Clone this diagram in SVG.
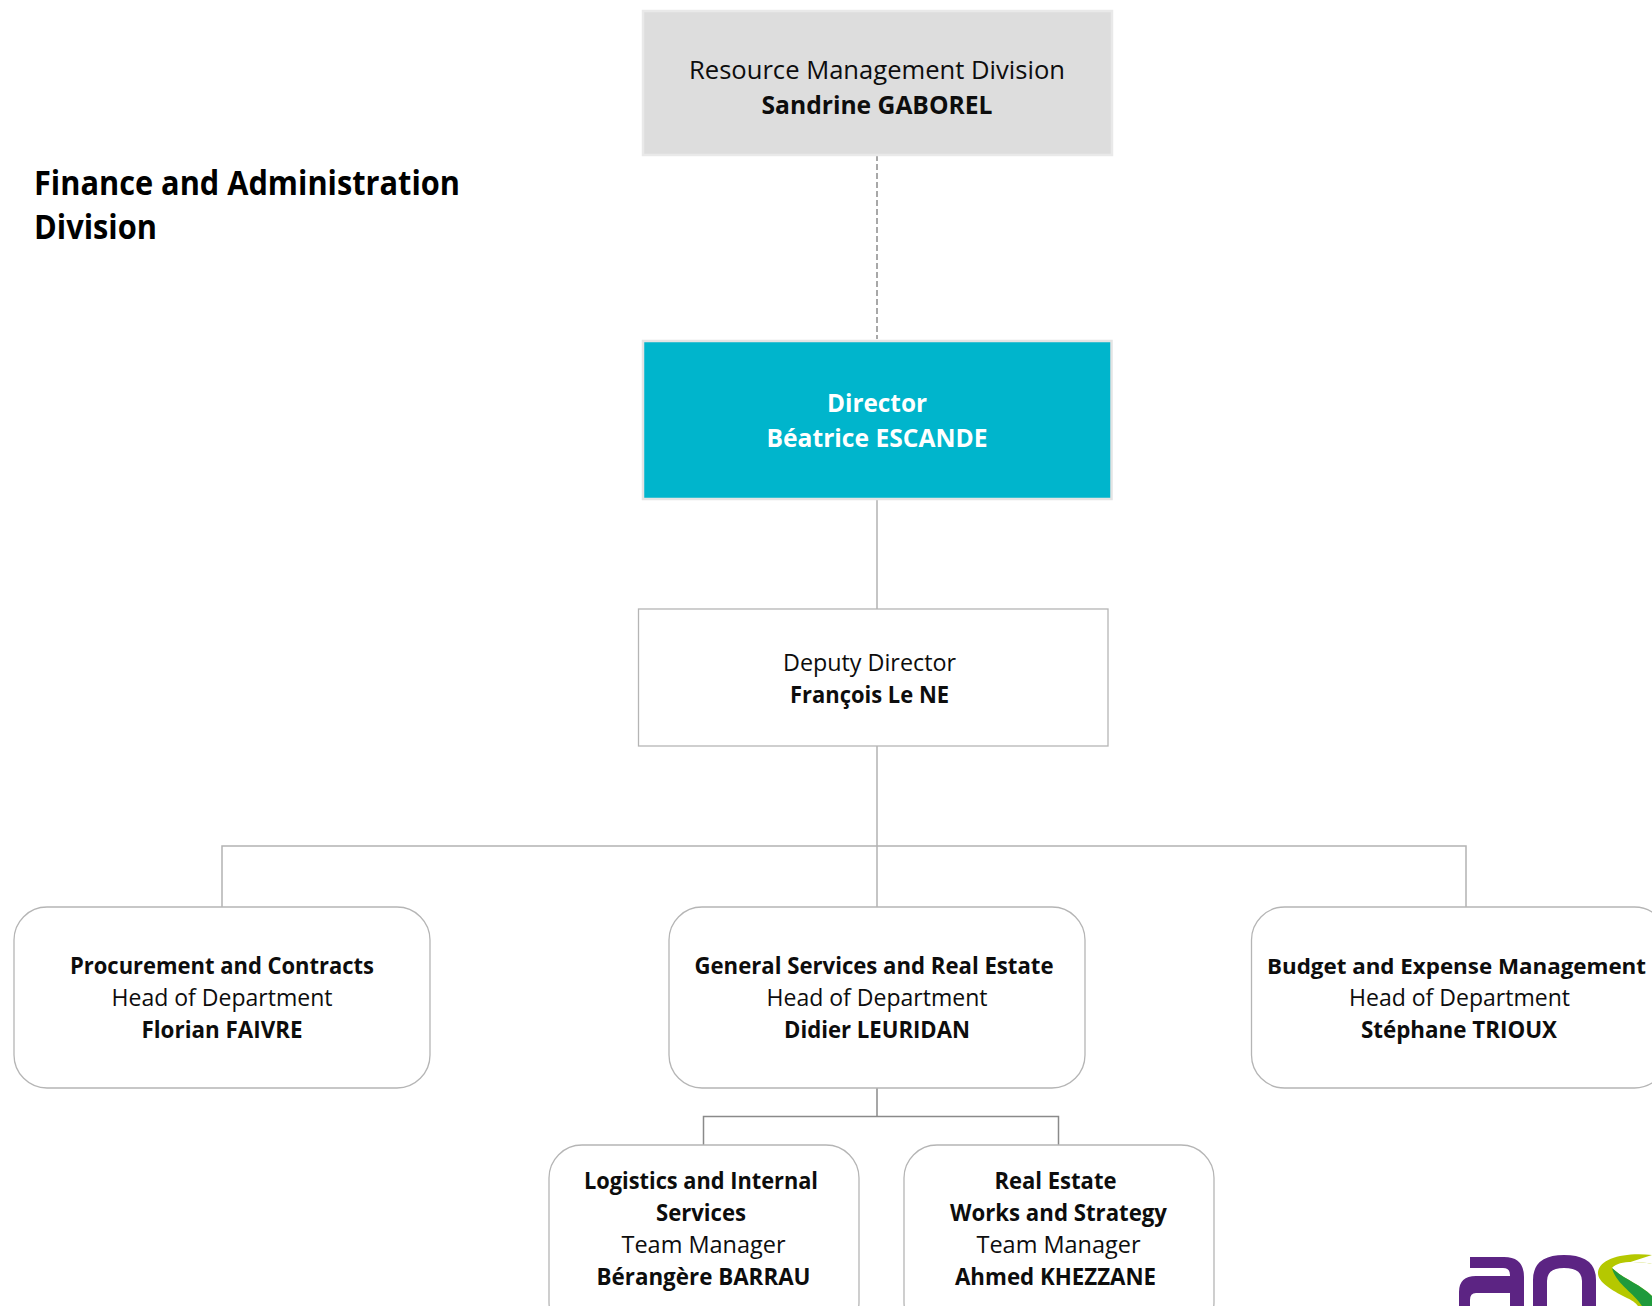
<svg xmlns="http://www.w3.org/2000/svg" width="1652" height="1306" viewBox="0 0 1652 1306">
<style>
text{font-family:"Open Sans","Noto Sans","Liberation Sans",sans-serif;fill:#0d0d0d;text-anchor:middle;font-size:25px}
.b{font-weight:700}
.s{font-size:24px}
.w{fill:#fff;font-weight:700;font-size:25px}
.t{font-size:34px;font-weight:700;text-anchor:start;fill:#000}
.n{fill:#fff;stroke:#b5b5b5;stroke-width:1.3}
.c{fill:none;stroke:#b3b3b3;stroke-width:1.5}
</style>
<rect width="1652" height="1306" fill="#fff"/>
<g id="connectors">
<path d="M877 155V339" fill="none" stroke="#8c8c8c" stroke-width="1.5" stroke-dasharray="6 3"/>
<path class="c" d="M877 499V609M877 746V907M222 907V846H1466V907"/>
<path d="M877 1088V1116M703.500 1145V1116.500H1058.500V1145" fill="none" stroke="#8a8a8a" stroke-width="1.5"/>
</g>
<g id="title"><text class="t" x="34" y="195" textLength="426" lengthAdjust="spacingAndGlyphs">Finance and Administration</text><text class="t" x="34" y="239" textLength="123" lengthAdjust="spacingAndGlyphs">Division</text></g>
<g id="resource-management">
<rect x="643" y="11" width="469" height="144" fill="#dddddd" stroke="#e9e9e9" stroke-width="2.500"/>
<text x="877" y="79" textLength="376" lengthAdjust="spacingAndGlyphs">Resource Management Division</text>
<text class="b" x="877" y="114" textLength="231" lengthAdjust="spacingAndGlyphs">Sandrine GABOREL</text>
</g>
<g id="director">
<rect x="643" y="341" width="468.500" height="158" fill="#00b5cc" stroke="#e4e4e4" stroke-width="2.500"/>
<text class="w" x="877" y="412" textLength="100" lengthAdjust="spacingAndGlyphs">Director</text>
<text class="w" x="877" y="447" textLength="221" lengthAdjust="spacingAndGlyphs">Béatrice ESCANDE</text>
</g>
<g id="deputy">
<rect class="n" x="638.500" y="609" width="469.500" height="137"/>
<text class="s" x="869.500" y="671" textLength="173" lengthAdjust="spacingAndGlyphs">Deputy Director</text>
<text class="s b" x="869.500" y="703" textLength="159" lengthAdjust="spacingAndGlyphs">François Le NE</text>
</g>
<g id="procurement">
<rect class="n" x="14" y="907" width="416" height="181" rx="33"/>
<text class="s b" x="222" y="974" textLength="304" lengthAdjust="spacingAndGlyphs">Procurement and Contracts</text>
<text class="s" x="222" y="1006" textLength="221" lengthAdjust="spacingAndGlyphs">Head of Department</text>
<text class="s b" x="222" y="1038" textLength="161" lengthAdjust="spacingAndGlyphs">Florian FAIVRE</text>
</g>
<g id="general-services">
<rect class="n" x="669" y="907" width="416" height="181" rx="33"/>
<text class="s b" x="874" y="974" textLength="359" lengthAdjust="spacingAndGlyphs">General Services and Real Estate</text>
<text class="s" x="877" y="1006" textLength="221" lengthAdjust="spacingAndGlyphs">Head of Department</text>
<text class="s b" x="877" y="1038" textLength="186" lengthAdjust="spacingAndGlyphs">Didier LEURIDAN</text>
</g>
<g id="budget">
<rect class="n" x="1251.500" y="907" width="416" height="181" rx="33"/>
<text class="s b" x="1456.500" y="974" style="font-size:22px" textLength="379" lengthAdjust="spacingAndGlyphs">Budget and Expense Management</text>
<text class="s" x="1459.500" y="1006" textLength="221" lengthAdjust="spacingAndGlyphs">Head of Department</text>
<text class="s b" x="1459" y="1038" textLength="196" lengthAdjust="spacingAndGlyphs">Stéphane TRIOUX</text>
</g>
<g id="logistics">
<rect class="n" x="549" y="1145" width="310" height="190" rx="33"/>
<text class="s b" x="701" y="1189" textLength="234" lengthAdjust="spacingAndGlyphs">Logistics and Internal</text>
<text class="s b" x="701" y="1221" textLength="90" lengthAdjust="spacingAndGlyphs">Services</text>
<text class="s" x="703.500" y="1253" textLength="164" lengthAdjust="spacingAndGlyphs">Team Manager</text>
<text class="s b" x="703.500" y="1285" textLength="214" lengthAdjust="spacingAndGlyphs">Bérangère BARRAU</text>
</g>
<g id="real-estate">
<rect class="n" x="904" y="1145" width="310" height="190" rx="33"/>
<text class="s b" x="1055.500" y="1189" textLength="122" lengthAdjust="spacingAndGlyphs">Real Estate</text>
<text class="s b" x="1058.500" y="1221" textLength="217" lengthAdjust="spacingAndGlyphs">Works and Strategy</text>
<text class="s" x="1058.500" y="1253" textLength="164" lengthAdjust="spacingAndGlyphs">Team Manager</text>
<text class="s b" x="1055.500" y="1285" textLength="201" lengthAdjust="spacingAndGlyphs">Ahmed KHEZZANE</text>
</g>
<g id="logo">
<path d="M1470 1257H1504Q1524 1257 1524 1277V1306H1510V1293H1476Q1470 1293 1470 1300V1306H1459V1292Q1459 1276 1476 1276H1510V1275Q1510 1268 1503 1268H1470Z" fill="#5c2483"/>
<path d="M1533 1306V1280Q1533 1255 1564 1255Q1596 1255 1596 1280V1306H1582V1281Q1582 1268 1564 1268Q1547 1268 1547 1281V1306Z" fill="#5c2483"/>
<path d="M1652 1255C1625 1252 1600 1258 1598 1272C1597 1282 1612 1290 1625 1297C1632 1300 1636 1303 1638 1306H1652V1264C1635 1261 1618 1261 1612 1268Z" fill="#b5c800"/>
<path d="M1652 1264C1635 1261 1618 1261 1612 1268C1625 1280 1640 1284 1652 1296Z" fill="#fff"/>
<path d="M1612 1268C1625 1280 1640 1284 1652 1296V1306H1642C1634 1293 1616 1284 1612 1268Z" fill="#1f9a3c"/>
</g>
</svg>
